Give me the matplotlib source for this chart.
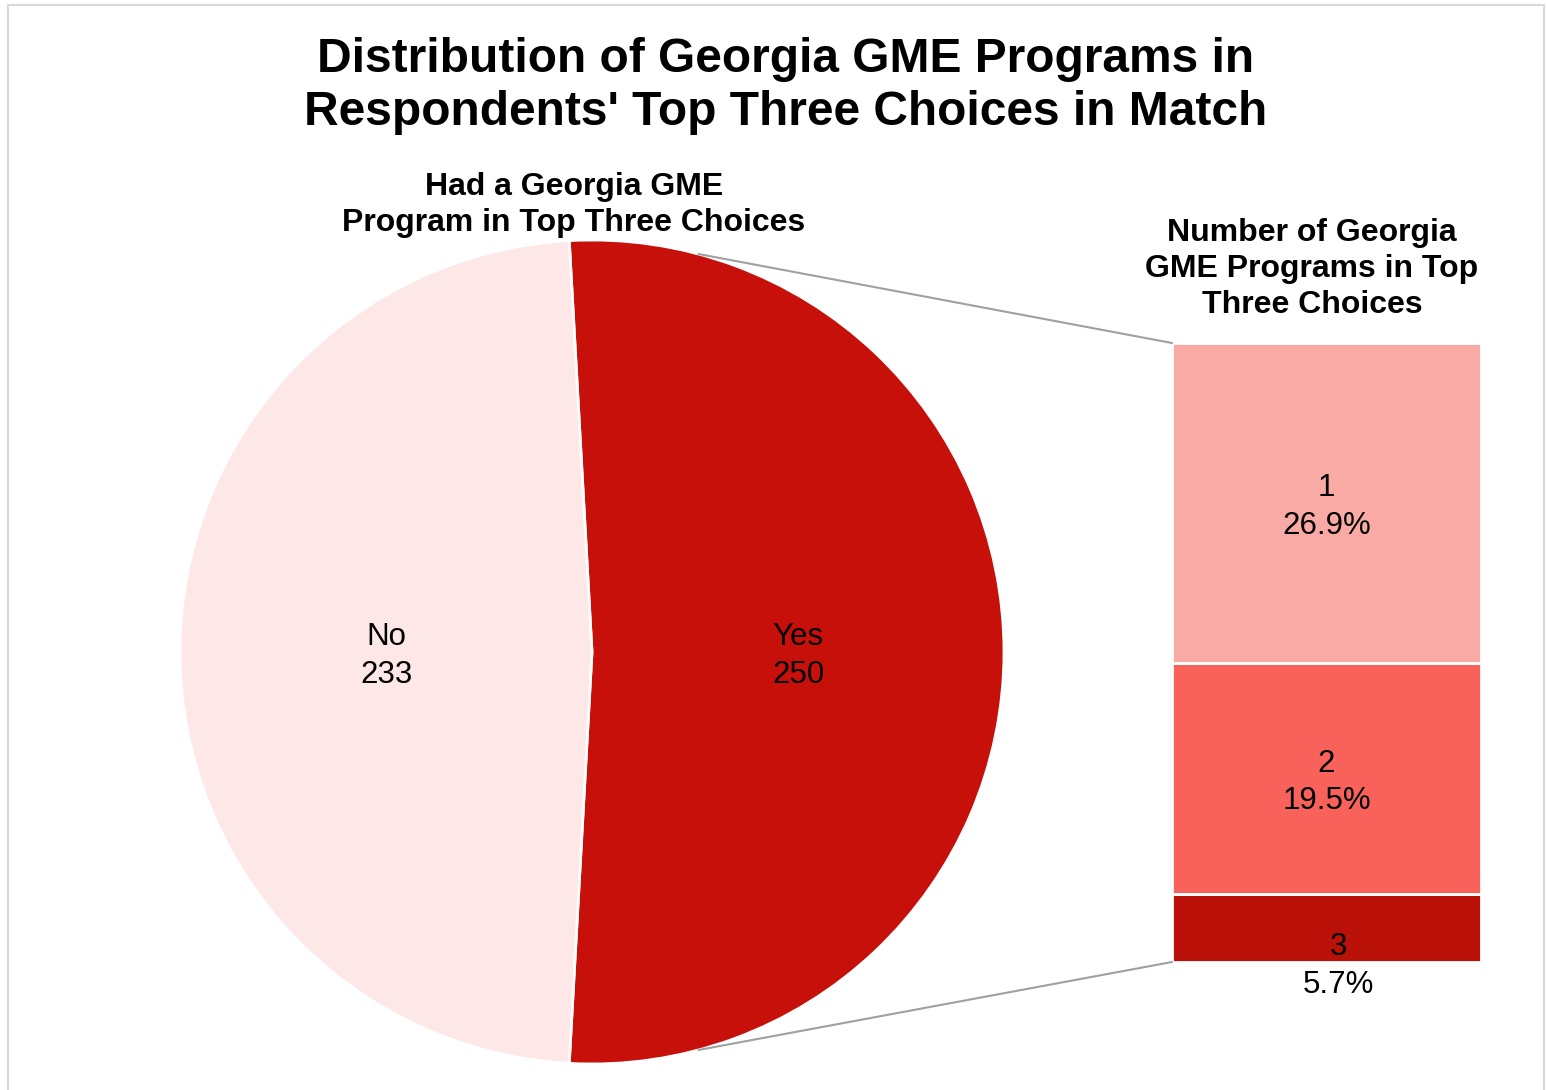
import numpy as np
import matplotlib.pyplot as plt
from matplotlib.patches import ConnectionPatch, Rectangle

plt.rcParams['font.family'] = ['Liberation Sans', 'DejaVu Sans']

# pie: had a Georgia program in top three
pie_labels = ['Yes', 'No']
pie_counts = [250, 233]
pie_colors = ['#C7100A', '#FDE7E7']

# bar: number of Georgia programs in top three (percent of all respondents)
bar_labels = ['3', '2', '1']
bar_pcts = [5.7, 19.5, 26.9]
bar_colors = ['#BA1108', '#F9625B', '#F9AAA5']

W, H = 1546, 1090
fig = plt.figure(figsize=(W / 100, H / 100), dpi=100)

def box(x0, y0, x1, y1):
    # pixel box (top-left origin) -> figure fraction rect
    return [x0 / W, 1 - y1 / H, (x1 - x0) / W, (y1 - y0) / H]

# frame around the chart area
fig.add_artist(Rectangle((8 / W, -0.05), (1544 - 8) / W, 1.05 - 5 / H,
                         transform=fig.transFigure, fill=False,
                         edgecolor='#D9D9D9', linewidth=1.5))

# pie
ax_pie = fig.add_axes(box(180, 240, 1004, 1064))
yes_angle = 360 * pie_counts[0] / sum(pie_counts)
wedges, texts = ax_pie.pie(
    pie_counts,
    labels=[f'{l}\n{c}' for l, c in zip(pie_labels, pie_counts)],
    colors=pie_colors,
    startangle=-yes_angle / 2,
    labeldistance=0.5,
    wedgeprops=dict(edgecolor='white', linewidth=2),
    textprops=dict(fontsize=22.5, ha='center', va='center', color='black',
                   linespacing=1.32),
)
for t in texts:
    x, y = t.get_position()
    t.set_position((x, y - 0.01))
ax_pie.set_xlim(-1, 1)
ax_pie.set_ylim(-1, 1)
ax_pie.set_aspect('equal')

# stacked bar
ax_bar = fig.add_axes(box(1172, 343, 1481, 962))
bottom = 0
for lab, pct, col in zip(bar_labels, bar_pcts, bar_colors):
    ax_bar.bar(0, pct, width=1, bottom=bottom, color=col,
               edgecolor='white', linewidth=2)
    if lab == '3':
        xy = (0.04, bottom)
    else:
        xy = (0, bottom + pct / 2)
    ax_bar.annotate(f'{lab}\n{pct}%', xy, xytext=(0, -3), textcoords='offset points',
                    ha='center', va='center', fontsize=22.5, linespacing=1.32,
                    annotation_clip=False)
    bottom += pct
ax_bar.set_xlim(-0.5, 0.5)
ax_bar.set_ylim(0, bottom)
ax_bar.axis('off')

# connector lines from pie to bar
theta = np.deg2rad(75)
for sign, y_end in [(1, bottom), (-1, 0)]:
    con = ConnectionPatch(xyA=(np.cos(theta), sign * np.sin(theta)), coordsA=ax_pie.transData,
                          xyB=(-0.5, y_end), coordsB=ax_bar.transData,
                          color='#A0A0A0', linewidth=1.5)
    fig.add_artist(con)

fig.text(786 / W, 1 - 86 / H,
         'Distribution of Georgia GME Programs in\nRespondents\' Top Three Choices in Match',
         ha='center', va='center', fontsize=34.5, fontweight='bold', linespacing=1.25)
fig.text(574 / W, 1 - 205 / H, 'Had a Georgia GME\nProgram in Top Three Choices',
         ha='center', va='center', fontsize=23, fontweight='bold', linespacing=1.25)
fig.text(1312 / W, 1 - 269 / H, 'Number of Georgia\nGME Programs in Top\nThree Choices',
         ha='center', va='center', fontsize=23, fontweight='bold', linespacing=1.25)

fig.savefig('out.png', dpi=100)
